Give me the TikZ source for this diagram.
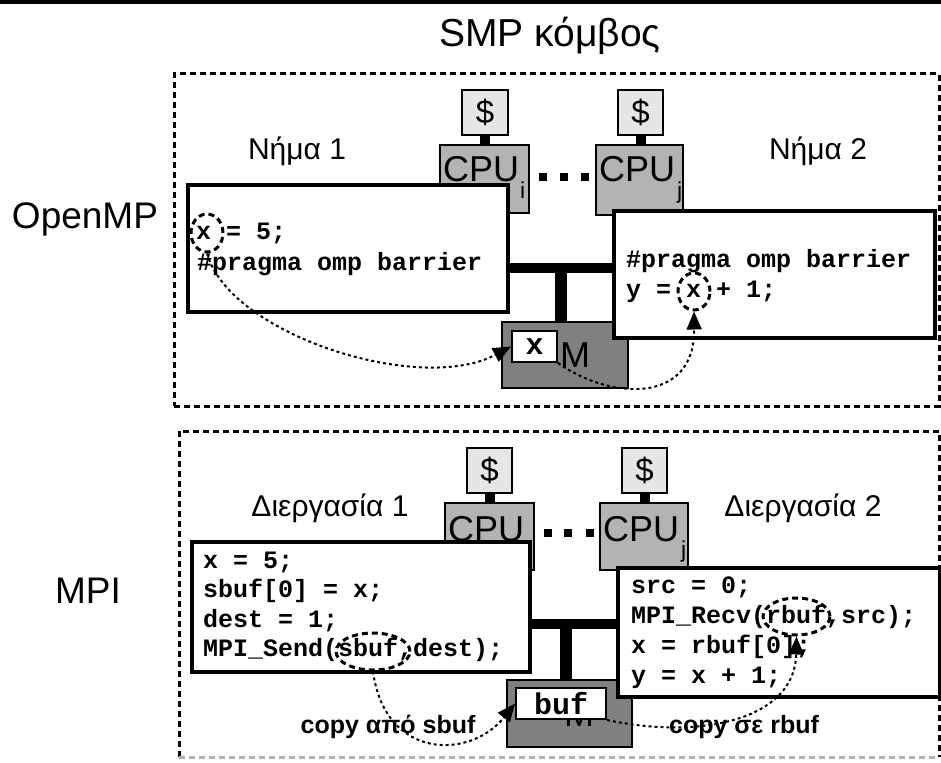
\documentclass[tikz,border=0pt]{standalone}
\usepackage{fontspec}
\setmainfont{Liberation Sans}
\setmonofont{Liberation Mono}
\usetikzlibrary{arrows.meta,shapes.geometric}
\definecolor{cachegray}{HTML}{E6E6E6}
\definecolor{cpugray}{HTML}{B3B3B3}
\definecolor{memgray}{HTML}{808080}
\begin{document}
\begin{tikzpicture}[x=1pt,y=-1pt,
  frame/.style={draw, line width=3pt, dash pattern=on 6pt off 4pt},
  cachebox/.style={draw, line width=1.5pt, fill=cachegray, inner sep=0pt, minimum width=45pt, minimum height=45pt, font=\fontsize{33}{33}\selectfont},
  cpubox/.style={draw, line width=1.5pt, fill=cpugray, inner sep=0pt},
  codebox/.style={draw, line width=3.8pt, fill=white, inner sep=0pt},
  membox/.style={draw, line width=2pt, fill=memgray, inner sep=0pt},
  varbox/.style={draw, line width=2pt, fill=white, inner sep=0pt, font=\fontsize{30}{30}\selectfont\ttfamily\bfseries},
  link/.style={line width=10pt},
  busline/.style={line width=10pt},
  dotsq/.style={fill=black, inner sep=0pt, minimum size=8pt},
  cputxt/.style={anchor=base west, inner sep=0pt, font=\fontsize{36}{36}\selectfont},
  subtxt/.style={anchor=base west, inner sep=0pt, font=\fontsize{23}{23}\selectfont},
  codetxt/.style={anchor=base west, inner sep=0pt, font=\fontsize{25}{25}\selectfont\ttfamily\bfseries},
  lbl/.style={anchor=base, inner sep=0pt, font=\fontsize{30}{30}\selectfont},
  biglbl/.style={anchor=base, inner sep=0pt, font=\fontsize{37}{37}\selectfont},
  copylbl/.style={anchor=base, inner sep=0pt, font=\fontsize{25}{25}\selectfont\bfseries},
  mtxt/.style={anchor=base west, inner sep=0pt, font=\fontsize{36}{36}\selectfont},
  varcirc/.style={draw, ellipse, line width=3pt, dash pattern=on 6pt off 4pt, inner sep=0pt},
  flow/.style={line width=2pt, dash pattern=on 3pt off 3pt, -{Triangle[length=18pt,width=15pt]}}
]
\useasboundingbox (0,0) rectangle (941,762);
\fill (0,0) rectangle (941,4.5);

% frames
\node[frame, minimum width=765pt, minimum height=332pt] (ompframe) at (556.5,240) {};
\draw[frame] (179,757) -- (179,431) -- (939,431) -- (939,757);
\draw[frame, draw=black!30] (179,757) -- (939,757);

% titles
\node[biglbl, font=\fontsize{39}{39}\selectfont] (smp) at (550,47) {SMP κόμβος};
\node[biglbl] (openmp) at (85,228) {OpenMP};
\node[biglbl] (mpi) at (88,603) {MPI};
\node[lbl] (thr1) at (297,160) {Νήμα 1};
\node[lbl] (thr2) at (818,160) {Νήμα 2};
\node[lbl] (proc1) at (330,516) {Διεργασία 1};
\node[lbl] (proc2) at (803,516) {Διεργασία 2};

% ---------- OpenMP part ----------
\node[cachebox, minimum width=46pt] (c1) at (485,112.5) {\$};
\node[cachebox] (c2) at (640.5,112.5) {\$};
\node[cpubox, minimum width=89pt, minimum height=68pt] (cpu1) at (484.5,179) {};
\node[cpubox, minimum width=87pt, minimum height=70pt] (cpu2) at (639.5,180) {};
\draw[link] (c1.south) -- (c1.south |- cpu1.north);
\draw[link] (c2.south) -- (c2.south |- cpu2.north);
\node[cputxt] (cpu1t) at (443,182) {CPU};
\node[subtxt] (cpu1s) at (520,198) {i};
\node[cputxt] (cpu2t) at (599,182) {CPU};
\node[subtxt] (cpu2s) at (677,198) {j};
\node[dotsq] (d1) at (543,177) {};
\node[dotsq] (d2) at (564,177) {};
\node[dotsq] (d3) at (585,177) {};

\node[membox, minimum width=126pt, minimum height=66pt] (mem1) at (565,355) {};
\node[mtxt] (m1t) at (560,367) {M};

\node[codebox, minimum width=320pt, minimum height=127pt] (code1) at (348,248.5) {};
\node[codebox, minimum width=321pt, minimum height=127pt] (code2) at (774.5,274.5) {};
\coordinate (bus1) at (561,267.5);
\draw[busline] (bus1 -| code1.east) -- (bus1 -| code2.west);
\draw[busline, line width=12pt] (bus1) -- (bus1 |- mem1.north);

\node[codetxt] (l11) at (196,239) {x = 5;};
\node[codetxt] (l12) at (197,270) {\#pragma omp barrier};
\node[codetxt] (l21) at (626,267) {\#pragma omp barrier};
\node[codetxt] (l22) at (626,297) {y = x + 1;};

\node[varbox, minimum width=45pt, minimum height=31pt] (xbox) at (534.5,346.5) {x};

\node[varcirc, minimum width=32pt, minimum height=38pt] (e1) at (207,233) {};
\node[varcirc, minimum width=32pt, minimum height=37pt] (e2) at (694,291.5) {};

\draw[flow] (e1.south) .. controls (230,335) and (420,395) .. (xbox.west);
\draw[flow] (xbox.south east) .. controls (610,400) and (695,405) .. (e2.south);

% ---------- MPI part ----------
\node[cachebox] (c3) at (489.5,470.5) {\$};
\node[cachebox] (c4) at (644.5,470.5) {\$};
\node[cpubox, minimum width=89pt, minimum height=67pt] (cpu3) at (489.5,536.5) {};
\node[cpubox, minimum width=88pt, minimum height=67pt] (cpu4) at (644,536.5) {};
\draw[link] (c3.south) -- (c3.south |- cpu3.north);
\draw[link] (c4.south) -- (c4.south |- cpu4.north);
\node[cputxt] (cpu3t) at (448,541) {CPU};
\node[subtxt] (cpu3s) at (525,557) {i};
\node[cputxt] (cpu4t) at (603,541) {CPU};
\node[subtxt] (cpu4s) at (681,557) {j};
\node[dotsq] (d4) at (548,533) {};
\node[dotsq] (d5) at (568,533) {};
\node[dotsq] (d6) at (590,533) {};

\node[membox, minimum width=125pt, minimum height=67pt] (mem2) at (569.5,713.5) {};
\node[mtxt] (m2t) at (564,726) {M};

\node[codebox, minimum width=338pt, minimum height=130pt] (code3) at (361,607) {};
\node[codebox, minimum width=322pt, minimum height=129pt] (code4) at (779,632.5) {};
\coordinate (bus2) at (566,624);
\draw[busline] (bus2 -| code3.east) -- (bus2 -| code4.west);
\draw[busline, line width=12pt] (bus2) -- (bus2 |- mem2.north);

\node[codetxt] (l31) at (203,568) {x = 5;};
\node[codetxt] (l32) at (203,597) {sbuf[0] = x;};
\node[codetxt] (l33) at (203,627) {dest = 1;};
\node[codetxt] (l34) at (203,656) {MPI\_Send(sbuf,dest);};
\node[codetxt] (l41) at (631,593) {src = 0;};
\node[codetxt] (l42) at (631,623) {MPI\_Recv(rbuf,src);};
\node[codetxt] (l43) at (631,653) {x = rbuf[0];};
\node[codetxt] (l44) at (631,683) {y = x + 1;};

\node[varbox, minimum width=90pt, minimum height=31pt] (bufbox) at (561,703.5) {buf};

\node[varcirc, minimum width=74pt, minimum height=37pt] (e3) at (373,651.5) {};
\node[varcirc, minimum width=67pt, minimum height=37pt] (e4) at (796.5,616.5) {};

\node[copylbl] (cp1) at (388,733) {copy από sbuf};
\node[copylbl] (cp2) at (744,733) {copy σε rbuf};

\draw[flow] (e3.south) .. controls (385,760) and (470,760) .. (bufbox.west);
\draw[flow] (bufbox.south east) .. controls (700,740) and (795,720) .. (e4.south);
\end{tikzpicture}
\end{document}
